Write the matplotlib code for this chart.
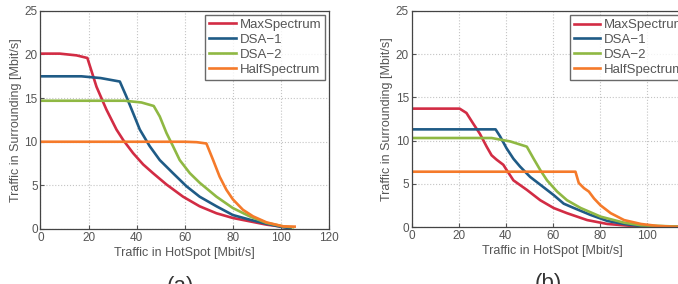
import matplotlib.pyplot as plt

plt.rcParams['font.family'] = ['Liberation Sans', 'DejaVu Sans']

# Panel (a) data
a_max_x = [0, 8, 15, 19.5, 23.3, 27.4, 31.6, 34.4, 38.5, 42.7, 46.8, 52.4, 59.3, 66.2, 73.2, 80, 94, 103.6]
a_max_y = [20.1, 20.1, 19.9, 19.6, 16.3, 13.7, 11.4, 10.2, 8.7, 7.4, 6.4, 5.1, 3.7, 2.6, 1.8, 1.26, 0.5, 0.15]
a_dsa1_x = [0, 17, 25, 33, 35.7, 38.5, 41.3, 45.4, 49.6, 55.1, 60.7, 66.2, 73.2, 80, 87, 94, 100.9, 104]
a_dsa1_y = [17.5, 17.5, 17.3, 16.9, 15.2, 13.3, 11.4, 9.5, 7.9, 6.4, 4.9, 3.7, 2.6, 1.6, 1.07, 0.6, 0.2, 0.1]
a_dsa2_x = [0, 35, 42, 47.1, 49.6, 52.4, 55.1, 57.9, 62.1, 66.2, 73.2, 80, 87, 94, 101, 105]
a_dsa2_y = [14.7, 14.7, 14.5, 14.1, 12.9, 11.0, 9.5, 7.9, 6.4, 5.3, 3.7, 2.4, 1.45, 0.7, 0.3, 0.2]
a_half_x = [0, 60, 65, 69, 71.8, 74.5, 77.3, 80, 84.2, 88.4, 94, 100.9, 105.7]
a_half_y = [10.0, 10.0, 9.95, 9.8, 7.9, 6.0, 4.5, 3.4, 2.2, 1.45, 0.76, 0.3, 0.27]

# Panel (b) data
b_max_x = [0, 20.4, 23.3, 26.1, 29, 31.9, 34, 36.1, 39, 40.4, 43.3, 49, 54.7, 60.4, 66.1, 74.7, 83.3, 97.6, 118]
b_max_y = [13.7, 13.7, 13.2, 12.0, 10.8, 9.3, 8.3, 7.8, 7.2, 6.6, 5.4, 4.3, 3.1, 2.2, 1.6, 0.8, 0.35, 0.04, 0.0]
b_dsa1_x = [0, 35.7, 37.6, 40.4, 43.3, 46.1, 50.4, 54.7, 60.4, 64.7, 69, 76.1, 83.3, 90.4, 97.6, 118]
b_dsa1_y = [11.3, 11.3, 10.5, 9.1, 7.9, 7.0, 5.8, 4.9, 3.7, 2.7, 2.2, 1.4, 0.7, 0.35, 0.1, 0.0]
b_dsa2_x = [0, 34, 42, 49, 51.9, 54.7, 57.6, 61.9, 66.1, 71.9, 80.4, 90.4, 97.6, 118]
b_dsa2_y = [10.3, 10.3, 9.9, 9.3, 7.9, 6.6, 5.4, 4.1, 3.1, 2.2, 1.2, 0.5, 0.2, 0.0]
b_half_x = [0, 69.7, 71.1, 73.3, 75.4, 77.6, 80.4, 84.7, 90.4, 97.6, 104.7, 114, 118]
b_half_y = [6.4, 6.4, 5.1, 4.5, 4.1, 3.3, 2.5, 1.6, 0.8, 0.35, 0.12, 0.0, 0.0]

labels = ['MaxSpectrum', 'DSA\u22121', 'DSA\u22122', 'HalfSpectrum']
colors = ['#d22c44', '#1f5b86', '#8fb843', '#f57a2a']
txt = '#555555'

fig = plt.figure(figsize=(6.78, 2.84), dpi=100)
ax_a = fig.add_axes([0.0597, 0.1937, 0.4256, 0.768])
ax_b = fig.add_axes([0.6072, 0.2007, 0.4159, 0.7606])

panels = [
  (ax_a, [(a_max_x, a_max_y), (a_dsa1_x, a_dsa1_y), (a_dsa2_x, a_dsa2_y), (a_half_x, a_half_y)], '(a)'),
  (ax_b, [(b_max_x, b_max_y), (b_dsa1_x, b_dsa1_y), (b_dsa2_x, b_dsa2_y), (b_half_x, b_half_y)], '(b)'),
]

for ax, series, tag in panels:
  for (x, y), lab, c in zip(series, labels, colors):
    ax.plot(x, y, color=c, lw=1.9, label=lab)
  ax.set_xlim(0, 120)
  ax.set_ylim(0, 25)
  ax.set_xticks(range(0, 121, 20))
  ax.set_yticks(range(0, 26, 5))
  ax.grid(True, linestyle=':', color='#c4c4c4', lw=0.8)
  ax.tick_params(labelsize=8.5, colors=txt, length=3, direction='in', pad=2)
  for s in ax.spines.values():
    s.set_color('#444444')
    s.set_linewidth(0.9)
  ax.set_xlabel('Traffic in HotSpot [Mbit/s]', fontsize=9, color=txt, labelpad=2)
  ax.set_ylabel('Traffic in Surrounding [Mbit/s]', fontsize=9, color=txt, labelpad=2)
  leg = ax.legend(loc='upper right', fontsize=9.5, frameon=True, fancybox=False,
                  handlelength=2.0, borderaxespad=0.3, labelspacing=0.2,
                  borderpad=0.3, handletextpad=0.3)
  leg.get_frame().set_edgecolor('#444444')
  leg.get_frame().set_linewidth(1.0)
  for t in leg.get_texts():
    t.set_color(txt)
  ax.text(0.486, -0.215, tag, transform=ax.transAxes, ha='center', va='top',
          fontsize=16, color='#333333')

fig.savefig('out.png', dpi=100)
